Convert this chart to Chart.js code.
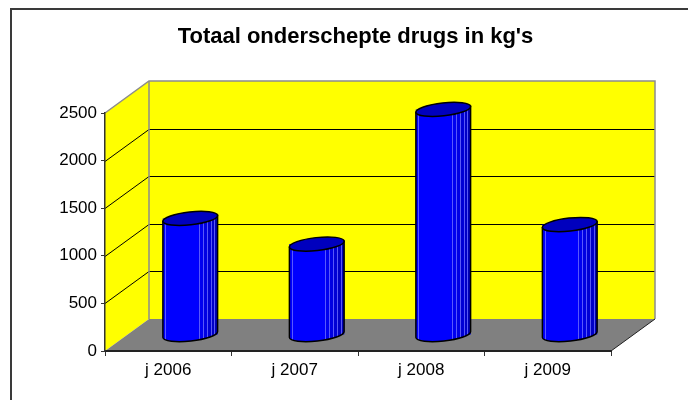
<!DOCTYPE html>
<html>
<head>
<meta charset="utf-8">
<script src="https://cdn.jsdelivr.net/npm/chart.js@4/dist/chart.umd.min.js"></script>
<style>
  html, body { margin: 0; padding: 0; background: #ffffff; }
  #wrap { width: 688px; height: 400px; }
</style>
</head>
<body>
<div id="wrap"><canvas id="c" width="688" height="400"></canvas></div>
<script>
// ---- data ----
const categories = ['j 2006', 'j 2007', 'j 2008', 'j 2009'];
const values = [1225, 955, 2370, 1160];
const yTickValues = [0, 500, 1000, 1500, 2000, 2500];
const chartTitle = "Totaal onderschepte drugs in kg's";

const FONT = "'Liberation Sans', Arial, Helvetica, sans-serif";
const DEPTH_X = 44, DEPTH_Y = -32;     // wall depth offset
const BAR_X = 22, BAR_Y = -16;         // bars sit halfway in depth

const walls3d = {
  id: 'walls3d',
  beforeDraw(chart) {
    const ctx = chart.ctx;
    const y = chart.scales.y;
    const L = chart.chartArea.left, R = chart.chartArea.right;
    const T = y.getPixelForValue(yTickValues[yTickValues.length - 1]);
    const B = y.getPixelForValue(0);
    ctx.save();
    // outer frame
    ctx.strokeStyle = '#3a3a3a';
    ctx.lineWidth = 2;
    ctx.strokeRect(11, 9, 760, 460);
    // side wall
    ctx.fillStyle = '#FFFF00';
    ctx.beginPath();
    ctx.moveTo(L, B); ctx.lineTo(L, T); ctx.lineTo(L + DEPTH_X, T + DEPTH_Y); ctx.lineTo(L + DEPTH_X, B + DEPTH_Y);
    ctx.closePath(); ctx.fill();
    // back wall
    ctx.fillRect(L + DEPTH_X, T + DEPTH_Y, R - L, B - T);
    // floor
    ctx.fillStyle = '#808080';
    ctx.beginPath();
    ctx.moveTo(L, B); ctx.lineTo(R, B); ctx.lineTo(R + DEPTH_X, B + DEPTH_Y); ctx.lineTo(L + DEPTH_X, B + DEPTH_Y);
    ctx.closePath(); ctx.fill();
    // gridlines
    ctx.strokeStyle = '#000000';
    ctx.lineWidth = 1;
    yTickValues.forEach(v => {
      if (v === 0 || v === yTickValues[yTickValues.length - 1]) return;
      const py = Math.round(y.getPixelForValue(v)) + 0.5;
      ctx.beginPath();
      ctx.moveTo(L, py);
      ctx.lineTo(L + DEPTH_X, py + DEPTH_Y);
      ctx.lineTo(R + DEPTH_X, py + DEPTH_Y);
      ctx.stroke();
    });
    // wall borders
    ctx.strokeStyle = '#8c8c8c';
    ctx.lineWidth = 1.5;
    ctx.beginPath();
    ctx.moveTo(L, T); ctx.lineTo(L + DEPTH_X, T + DEPTH_Y);
    ctx.lineTo(R + DEPTH_X, T + DEPTH_Y); ctx.lineTo(R + DEPTH_X, B + DEPTH_Y);
    ctx.stroke();
    ctx.beginPath();
    ctx.moveTo(L + DEPTH_X, T + DEPTH_Y); ctx.lineTo(L + DEPTH_X, B + DEPTH_Y);
    ctx.stroke();
    // floor right edge
    ctx.strokeStyle = '#202020';
    ctx.lineWidth = 1;
    ctx.beginPath();
    ctx.moveTo(R, B); ctx.lineTo(R + DEPTH_X, B + DEPTH_Y);
    ctx.stroke();
    ctx.restore();
  },
  beforeDatasetsDraw(chart) {
    chart.ctx.save();
    chart.ctx.translate(BAR_X, BAR_Y);
  },
  afterDatasetsDraw(chart) {
    const ctx = chart.ctx;
    const meta = chart.getDatasetMeta(0);
    const th = -0.11, ry = 6.5;
    meta.data.forEach(bar => {
      const p = bar.getProps(['x', 'y', 'base', 'width'], true);
      const cx = p.x, rx = p.width / 2, yTop = p.y, yBase = p.base;
      const c = Math.cos(th), s = Math.sin(th);
      const body = new Path2D();
      body.moveTo(cx + rx * c, yTop + rx * s);
      body.lineTo(cx + rx * c, yBase + rx * s);
      body.ellipse(cx, yBase, rx, ry, th, 0, Math.PI, false);
      body.lineTo(cx - rx * c, yTop - rx * s);
      body.closePath();
      ctx.save();
      ctx.clip(body);
      const x0 = cx - rx, w = 2 * rx;
      ctx.fillStyle = '#0000FF';
      ctx.fillRect(x0 - 2, yTop - 20, w + 4, yBase - yTop + 40);
      const facets = [[0.65, 0.73, '#0000F0'], [0.73, 0.80, '#0000E2'], [0.80, 0.87, '#0000D4'], [0.87, 0.94, '#0000C6'], [0.94, 1.05, '#0000B8']];
      facets.forEach(f => {
        ctx.fillStyle = f[2];
        ctx.fillRect(x0 + f[0] * w, yTop - 20, (f[1] - f[0]) * w, yBase - yTop + 40);
      });
      ctx.strokeStyle = 'rgba(110,110,255,0.8)';
      ctx.lineWidth = 1;
      [0.045, 0.65, 0.73, 0.80, 0.87, 0.94].forEach(f => {
        const lx = Math.round(x0 + f * w) + 0.5;
        ctx.beginPath(); ctx.moveTo(lx, yTop - 20); ctx.lineTo(lx, yBase + 20); ctx.stroke();
      });
      ctx.restore();
      ctx.strokeStyle = '#000000';
      ctx.lineWidth = 1.5;
      ctx.stroke(body);
      // top cap
      ctx.beginPath();
      ctx.ellipse(cx, yTop, rx, ry, th, 0, Math.PI * 2);
      ctx.fillStyle = '#0000BE';
      ctx.fill();
      ctx.stroke();
    });
    ctx.restore();
  }
};

new Chart(document.getElementById('c'), {
  type: 'bar',
  data: {
    labels: categories,
    datasets: [{
      label: chartTitle,
      data: values,
      backgroundColor: '#0000FF',
      borderWidth: 0,
      barPercentage: 0.435,
      categoryPercentage: 1,
      clip: false
    }]
  },
  options: {
    responsive: false,
    animation: false,
    devicePixelRatio: 1,
    layout: { padding: { left: 50, right: 27, top: 0, bottom: 0 } },
    plugins: {
      legend: { display: false },
      tooltip: { enabled: false },
      title: {
        display: true,
        text: chartTitle,
        color: '#000000',
        font: { family: FONT, size: 22, weight: 'bold' },
        padding: { top: 24, bottom: 62.6 }
      }
    },
    scales: {
      x: {
        grid: { display: true, drawOnChartArea: false, drawTicks: true, tickLength: 5, color: '#333333', offset: true },
        border: { display: true, color: '#222222', width: 2 },
        ticks: { color: '#000000', font: { family: FONT, size: 17 }, padding: 4, maxRotation: 0 },
        afterFit(s) { s.height = 49; }
      },
      y: {
        min: 0,
        max: 2500,
        grid: { display: true, drawOnChartArea: false, drawTicks: true, tickLength: 4, color: '#333333' },
        border: { display: true, color: '#333333', width: 1.5 },
        ticks: { color: '#000000', font: { family: FONT, size: 17 }, padding: 4, callback: v => String(v) },
        afterBuildTicks(s) { s.ticks = yTickValues.map(v => ({ value: v })); },
        afterFit(s) { s.width = 55; }
      },
      spacer: {
        type: 'linear',
        position: 'right',
        display: true,
        grid: { display: false, drawTicks: false },
        border: { display: false },
        ticks: { display: false },
        afterFit(s) { s.width = 50; }
      }
    }
  },
  plugins: [walls3d]
});
</script>
</body>
</html>
